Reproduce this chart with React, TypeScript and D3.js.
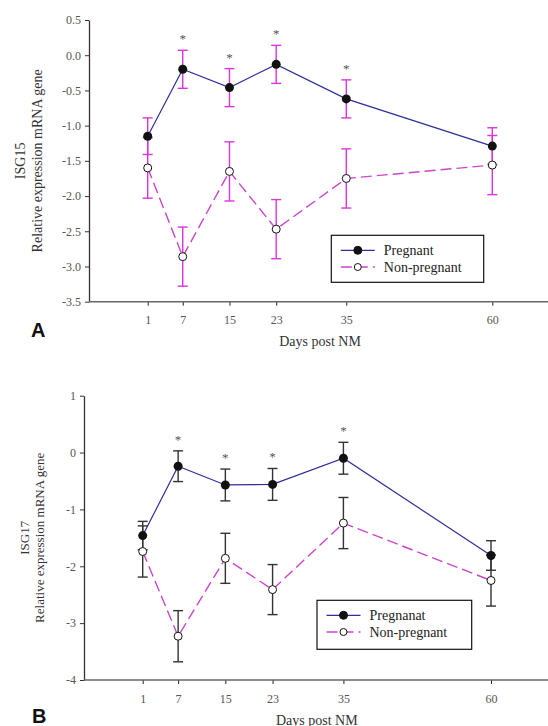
import React, { useEffect, useRef } from "react"
import * as d3 from "d3"

// Sampling days (days post natural mating)
const days = [1, 7, 15, 23, 35, 60]
const sigDays = [7, 15, 23, 35]

// Panel A: ISG15
const isg15Pregnant = [-1.15, -0.2, -0.46, -0.13, -0.62, -1.29]
const isg15PregnantErr = [0.26, 0.27, 0.27, 0.27, 0.27, 0.26]
const isg15NonPregnant = [-1.6, -2.86, -1.65, -2.47, -1.75, -1.56]
const isg15NonPregnantErr = [0.43, 0.42, 0.42, 0.42, 0.42, 0.42]
const isg15Ticks = [0.5, 0, -0.5, -1, -1.5, -2, -2.5, -3, -3.5]
const isg15Legend = ["Pregnant", "Non-pregnant"]

// Panel B: ISG17
const isg17Pregnant = [-1.46, -0.24, -0.57, -0.56, -0.1, -1.81]
const isg17PregnantErr = [0.25, 0.27, 0.28, 0.28, 0.28, 0.26]
const isg17NonPregnant = [-1.74, -3.23, -1.86, -2.41, -1.24, -2.25]
const isg17NonPregnantErr = [0.45, 0.45, 0.44, 0.44, 0.45, 0.45]
const isg17Ticks = [1, 0, -1, -2, -3, -4]
const isg17Legend = ["Pregnanat", "Non-pregnant"]

const W = 548
const H = 726
const SERIF = "'Liberation Serif', 'Times New Roman', serif"
const PREG_COLOR = "#2e2e9a"
const NONPREG_COLOR = "#cc44cc"

type Panel = {
	letter: string
	gene: string
	preg: number[]
	pregErr: number[]
	nonPreg: number[]
	nonPregErr: number[]
	ticks: number[]
	fmt: (v: number) => string
	legend: string[]
	axisX: number
	xRange: [number, number]
	yRange: [number, number]
	errColor: string
	yLabelX: [number, number]
	yLabelSize: number
	legendBox: [number, number, number, number]
	letterPos: [number, number]
	xTitleY: number
}

const drawPanel = (svg: any, p: Panel) => {
	const g = svg.append("g")
	const x = d3.scaleLinear().domain([days[0], days[days.length - 1]]).range(p.xRange)
	const y = d3
		.scaleLinear()
		.domain([d3.min(p.ticks) as number, d3.max(p.ticks) as number])
		.range(p.yRange)
	const y0 = y(d3.min(p.ticks) as number)

	// Y axis
	const ya = g
		.append("g")
		.attr("transform", `translate(${p.axisX},0)`)
		.call(d3.axisLeft(y).tickValues(p.ticks).tickSize(4).tickSizeOuter(0).tickFormat(p.fmt as any))
	ya.select(".domain").attr("stroke", "#333").attr("stroke-width", 1.3)
	ya.selectAll(".tick line").attr("stroke", "#333")
	ya.selectAll(".tick text")
		.attr("x", -8)
		.style("font-family", SERIF)
		.style("font-size", "12px")
		.attr("fill", "#555")

	// X axis
	const xa = g
		.append("g")
		.attr("transform", `translate(0,${y0})`)
		.call(d3.axisBottom(x).tickValues(days).tickSize(4).tickSizeOuter(0))
	xa.select(".domain").remove()
	xa.append("line")
		.attr("x1", p.axisX)
		.attr("x2", W)
		.attr("stroke", "#666")
		.attr("stroke-width", 1.5)
	xa.selectAll(".tick line").attr("stroke", "#222")
	xa.selectAll(".tick text")
		.attr("y", 14)
		.style("font-family", SERIF)
		.style("font-size", "12px")
		.attr("fill", "#555")

	// Axis titles
	const xMid = (p.xRange[0] + p.xRange[1]) / 2
	g.append("text")
		.attr("x", xMid)
		.attr("y", p.xTitleY)
		.attr("text-anchor", "middle")
		.style("font-family", SERIF)
		.style("font-size", "14px")
		.attr("fill", "#333")
		.text("Days post NM")
	const yMid = (p.yRange[0] + p.yRange[1]) / 2
	const yl = [p.gene, "Relative expression mRNA gene"]
	yl.forEach((t, i) => {
		g.append("text")
			.attr("transform", `translate(${p.yLabelX[i]},${yMid}) rotate(-90)`)
			.attr("text-anchor", "middle")
			.attr("dy", "0.35em")
			.style("font-family", SERIF)
			.style("font-size", `${p.yLabelSize}px`)
			.attr("fill", "#333")
			.text(t)
	})

	g.append("text")
		.attr("x", p.letterPos[0])
		.attr("y", p.letterPos[1])
		.style("font-family", "'Liberation Sans', Arial, sans-serif")
		.style("font-size", "20px")
		.style("font-weight", "700")
		.attr("fill", "#111")
		.text(p.letter)

	// Lines
	const line = d3
		.line<number>()
		.x((_, i) => x(days[i]))
		.y(d => y(d))
	g.append("path")
		.attr("d", line(p.nonPreg))
		.attr("fill", "none")
		.attr("stroke", NONPREG_COLOR)
		.attr("stroke-width", 1.4)
		.attr("stroke-dasharray", "11,5")
	g.append("path")
		.attr("d", line(p.preg))
		.attr("fill", "none")
		.attr("stroke", PREG_COLOR)
		.attr("stroke-width", 1.2)

	// Error bars
	const bars = [
		{ v: p.preg, e: p.pregErr },
		{ v: p.nonPreg, e: p.nonPregErr },
	]
	bars.forEach(s => {
		s.v.forEach((v, i) => {
			const cx = x(days[i])
			const eg = g.append("g").attr("stroke", p.errColor).attr("stroke-width", 1.4)
			eg.append("line").attr("x1", cx).attr("x2", cx).attr("y1", y(v + s.e[i])).attr("y2", y(v - s.e[i]))
			;[v + s.e[i], v - s.e[i]].forEach(c => {
				eg.append("line")
					.attr("x1", cx - 5)
					.attr("x2", cx + 5)
					.attr("y1", y(c))
					.attr("y2", y(c))
			})
		})
	})

	// Markers
	g.selectAll(null)
		.data(p.nonPreg)
		.join("circle")
		.attr("cx", (_: number, i: number) => x(days[i]))
		.attr("cy", (d: number) => y(d))
		.attr("r", 4)
		.attr("fill", "#fff")
		.attr("stroke", "#111")
		.attr("stroke-width", 1)
	g.selectAll(null)
		.data(p.preg)
		.join("circle")
		.attr("cx", (_: number, i: number) => x(days[i]))
		.attr("cy", (d: number) => y(d))
		.attr("r", 4.5)
		.attr("fill", "#111")

	// Significance asterisks
	sigDays.forEach(d => {
		const i = days.indexOf(d)
		g.append("text")
			.attr("x", x(d))
			.attr("y", y(p.preg[i] + p.pregErr[i]) - 7)
			.attr("text-anchor", "middle")
			.style("font-family", SERIF)
			.style("font-size", "13px")
			.attr("fill", "#555")
			.text("*")
	})

	// Legend
	const [bx, by, bw, bh] = p.legendBox
	const lg = g.append("g")
	lg.append("rect")
		.attr("x", bx)
		.attr("y", by)
		.attr("width", bw)
		.attr("height", bh)
		.attr("fill", "#fff")
		.attr("stroke", "#111")
		.attr("stroke-width", 1.2)
	p.legend.forEach((label, i) => {
		const ly = by + 15 + i * 16.7
		const lx = bx + 9.5
		lg.append("line")
			.attr("x1", lx)
			.attr("x2", lx + 34)
			.attr("y1", ly)
			.attr("y2", ly)
			.attr("stroke", i === 0 ? PREG_COLOR : NONPREG_COLOR)
			.attr("stroke-width", 1.3)
			.attr("stroke-dasharray", i === 0 ? null : "11,5")
		lg.append("circle")
			.attr("cx", lx + 17)
			.attr("cy", ly)
			.attr("r", i === 0 ? 4 : 3.5)
			.attr("fill", i === 0 ? "#111" : "#fff")
			.attr("stroke", "#111")
		lg.append("text")
			.attr("x", lx + 43)
			.attr("y", ly)
			.attr("dy", "0.35em")
			.style("font-family", SERIF)
			.style("font-size", "14px")
			.attr("fill", "#222")
			.text(label)
	})
}

const ExpressionChart = () => {
	const ref = useRef<SVGSVGElement>(null)

	useEffect(() => {
		const svg = d3.select(ref.current)
		svg.selectAll("*").remove()

		svg.append("rect").attr("width", W).attr("height", H).attr("fill", "#fff")

		drawPanel(svg, {
			letter: "A",
			gene: "ISG15",
			preg: isg15Pregnant,
			pregErr: isg15PregnantErr,
			nonPreg: isg15NonPregnant,
			nonPregErr: isg15NonPregnantErr,
			ticks: isg15Ticks,
			fmt: v => v.toFixed(1),
			legend: isg15Legend,
			axisX: 89,
			xRange: [147.7, 492.3],
			yRange: [301.7, 20],
			errColor: "#dd33dd",
			yLabelX: [20, 37],
			yLabelSize: 14,
			legendBox: [331.3, 235.3, 152.4, 47],
			letterPos: [31, 337],
			xTitleY: 346,
		})

		drawPanel(svg, {
			letter: "B",
			gene: "ISG17",
			preg: isg17Pregnant,
			pregErr: isg17PregnantErr,
			nonPreg: isg17NonPregnant,
			nonPregErr: isg17NonPregnantErr,
			ticks: isg17Ticks,
			fmt: v => String(v),
			legend: isg17Legend,
			axisX: 84,
			xRange: [142.7, 491],
			yRange: [680, 395.7],
			errColor: "#333",
			yLabelX: [24, 39],
			yLabelSize: 13,
			legendBox: [317, 600.3, 154.7, 49],
			letterPos: [32, 723],
			xTitleY: 724.5,
		})
	}, [])

	return (
		<svg
			ref={ref}
			width={W}
			height={H}
			style={{ position: "absolute", left: 0, top: 0, display: "block" }}
		></svg>
	)
}

export default function App() {
	return <ExpressionChart />
}
